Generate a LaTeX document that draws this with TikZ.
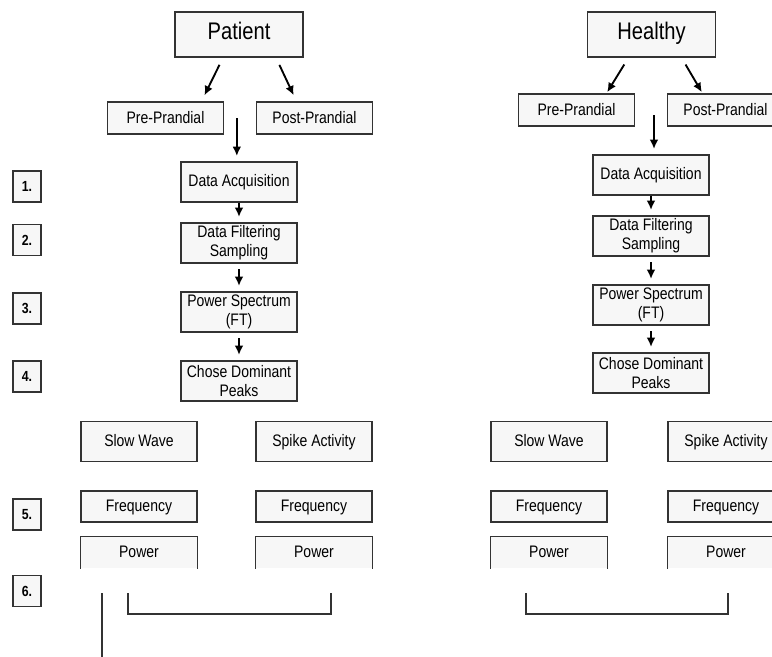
\documentclass[tikz,border=0pt]{standalone}
\usepackage{fontspec}
\setmainfont{Liberation Sans}[FakeStretch=0.84]
\usetikzlibrary{arrows.meta,calc}

\begin{document}
\begin{tikzpicture}[x=0.75pt,y=-0.75pt,
    box/.style={draw=black!80, line width=1pt, fill=black!3, inner sep=0pt, align=center,
        minimum width=87pt, minimum height=30pt, font=\fontsize{12.5}{14.25}\selectfont},
    one/.style={box, text height=1.95ex, text depth=.4ex},
    top/.style={one, minimum width=96pt, minimum height=33.75pt, font=\fontsize{18}{20}\selectfont},
    flat/.style={one, minimum height=24pt},
    num/.style={one, minimum width=21pt, minimum height=23.25pt, font=\fontsize{11}{12}\selectfont\bfseries},
    open/.style={one, draw=none},
    arr/.style={-{Latex[length=7pt,width=6.5pt]}, line width=1.4pt},
    ln/.style={line width=1pt, draw=black!80}]
    \clip (0,0) rectangle (772,657);

    % patient side
    \node[top] (pat) at (239,34.5) {Patient};
    \node[flat] (pre) at (165.5,118) {Pre-Prandial};
    \node[flat] (post) at (314.5,118) {Post-Prandial};
    \node[box] (da) at (239,182) {Data Acquisition};
    \node[box] (df) at (239,243) {Data Filtering\\Sampling};
    \node[box] (ps) at (239,312) {Power Spectrum\\(FT)};
    \node[box] (cdp) at (239,381) {Chose Dominant\\Peaks};
    \node[one] (sw) at (139,441.5) {Slow Wave};
    \node[one] (sa) at (314,441.5) {Spike Activity};
    \node[one, minimum height=23.25pt] (fr) at (139,506.5) {Frequency};
    \node[one, minimum height=23.25pt] (fr2) at (314,506.5) {Frequency};
    \node[open, minimum height=23.25pt] (pw) at (139,552.5) {Power};
    \node[open, minimum height=23.25pt] (pw2) at (314,552.5) {Power};
    \draw[ln] (pw.south west) |- (pw.north east) -- (pw.south east);
    \draw[ln] (pw2.south west) |- (pw2.north east) -- (pw2.south east);

    \draw[arr, shorten <=6pt, shorten >=5pt] ($(pat.south)+(-16,0)$) -- ($(pre.north)+(36,0)$);
    \draw[arr, shorten <=6pt, shorten >=5pt] ($(pat.south)+(37,0)$) -- ($(post.north)+(-18,0)$);
    \coordinate (pp) at ($(pre.east)!0.4!(post.west)$);
    \draw[arr, shorten >=4pt] (pp) -- (pp |- da.north);
    \draw[arr, shorten >=4pt] (da) -- (df);
    \draw[arr, shorten <=4pt, shorten >=4pt] (df) -- (ps);
    \draw[arr, shorten <=4pt, shorten >=4pt] (ps) -- (cdp);

    % step numbers
    \node[num] (n1) at (27,186.5) {1.};
    \node[num] (n2) at (27,240) {2.};
    \node[num] (n3) at (27,308.5) {3.};
    \node[num] (n4) at (27,376.5) {4.};
    \node[num] (n5) at (27,514.5) {5.};
    \node[num] (n6) at (27,591) {6.};

    \coordinate (b0) at (128,593);
    \coordinate (b1) at (331,614);
    \draw[ln] (b0) |- (b1) -- (b1 |- b0);
    \coordinate (l0) at (102,593);
    \coordinate (l1) at (102,657);
    \draw[ln] (l0) -- (l1);

    % healthy side
    \node[top] (hea) at (651.5,34.5) {Healthy};
    \node[flat] (hpre) at (576.5,110) {Pre-Prandial};
    \node[flat] (hpost) at (725.5,110) {Post-Prandial};
    \node[box] (hda) at (651,175) {Data Acquisition};
    \node[box] (hdf) at (651,236) {Data Filtering\\Sampling};
    \node[box] (hps) at (651,305) {Power Spectrum\\(FT)};
    \node[box] (hcdp) at (651,373) {Chose Dominant\\Peaks};
    \node[one] (hsw) at (549,441.5) {Slow Wave};
    \node[one] (hsa) at (726,441.5) {Spike Activity};
    \node[one, minimum height=23.25pt] (hfr) at (549,506.5) {Frequency};
    \node[one, minimum height=23.25pt] (hfr2) at (726,506.5) {Frequency};
    \node[open, minimum height=23.25pt] (hpw) at (549,552.5) {Power};
    \node[open, minimum height=23.25pt] (hpw2) at (726,552.5) {Power};
    \draw[ln] (hpw.south west) |- (hpw.north east) -- (hpw.south east);
    \draw[ln] (hpw2.south west) |- (hpw2.north east) -- (hpw2.south east);

    \draw[arr, shorten <=6pt, shorten >=1pt] ($(hea.south)+(-23,0)$) -- ($(hpre.north)+(30,0)$);
    \draw[arr, shorten <=6pt, shorten >=1pt] ($(hea.south)+(30,0)$) -- ($(hpost.north)+(-23,0)$);
    \coordinate (hpp) at ($(hda.north |- hpre.center)+(3,5)$);
    \draw[arr, shorten >=4pt] (hpp) -- (hpp |- hda.north);
    \draw[arr, shorten >=4pt] (hda) -- (hdf);
    \draw[arr, shorten <=4pt, shorten >=4pt] (hdf) -- (hps);
    \draw[arr, shorten <=4pt, shorten >=4pt] (hps) -- (hcdp);

    \coordinate (hb0) at (526,593);
    \coordinate (hb1) at (728,614);
    \draw[ln] (hb0) |- (hb1) -- (hb1 |- hb0);
\end{tikzpicture}
\end{document}
